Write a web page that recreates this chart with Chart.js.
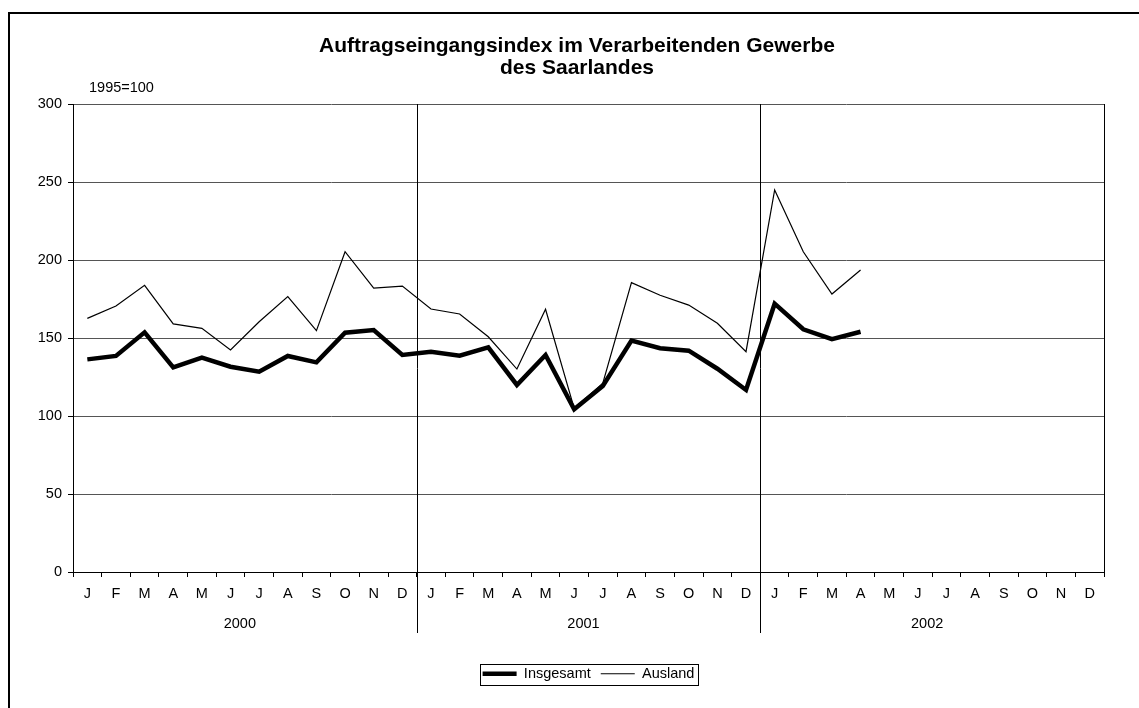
<!DOCTYPE html>
<html>
<head>
<meta charset="utf-8">
<script src="https://cdn.jsdelivr.net/npm/chart.js@4/dist/chart.umd.min.js"></script>
<style>
    body { margin: 0; background: #fff; overflow: hidden; }
    #frame { position: absolute; left: 8px; top: 12px; width: 1300px; height: 900px; border: 2px solid #000; }
    #chart { position: absolute; left: 0; top: 0; }
</style>
</head>
<body>
<div id="frame"></div>
<canvas id="chart" width="1139" height="708"></canvas>
<script>
// month letters, repeated for each year
const months = ['J', 'F', 'M', 'A', 'M', 'J', 'J', 'A', 'S', 'O', 'N', 'D'];
const years = ['2000', '2001', '2002'];

// Insgesamt (thick line)
const insgesamt2000 = [136.3, 138.5, 153.6, 131.2, 137.4, 131.6, 128.4, 138.5, 134.4, 153.4, 155.1, 139.1];
const insgesamt2001 = [141.2, 138.7, 144.0, 119.9, 139.1, 104.3, 119.2, 148.3, 143.4, 141.9, 130.3, 116.7];
const insgesamt2002 = [172.0, 155.6, 149.2, 154.0, null, null, null, null, null, null, null, null];

// Ausland (thin line)
const ausland2000 = [162.6, 170.5, 183.8, 159.0, 156.2, 142.3, 160.4, 176.5, 154.7, 205.3, 182.0, 183.3];
const ausland2001 = [168.6, 165.4, 150.8, 130.1, 168.4, 104.9, 121.0, 185.5, 177.4, 171.1, 159.4, 141.2];
const ausland2002 = [244.9, 205.3, 178.2, 193.6, null, null, null, null, null, null, null, null];

const labels = years.flatMap(() => months);

Chart.defaults.font.family = "'Liberation Sans', Arial, sans-serif";
Chart.defaults.font.size = 14.5;
Chart.defaults.color = '#000';

// year names under the months, separators between years, base note, legend frame
const extras = {
    id: 'extras',
    afterDraw(chart) {
        const ctx = chart.ctx;
        const x = chart.scales.x;
        const area = chart.chartArea;
        const slot = x.getPixelForValue(1) - x.getPixelForValue(0);

        ctx.save();
        ctx.strokeStyle = '#000';
        ctx.lineWidth = 1;

        ctx.font = "14.5px 'Liberation Sans', Arial, sans-serif";
        ctx.fillStyle = '#000';
        ctx.textAlign = 'center';
        ctx.textBaseline = 'middle';
        years.forEach((y, i) => {
            const first = x.getPixelForValue(i * 12) - slot / 2;
            const last = x.getPixelForValue(i * 12 + 11) + slot / 2;
            ctx.fillText(y, (first + last) / 2 - 5, 624);
            if (i > 0) {
                const sx = Math.round(first) + 0.5;
                ctx.beginPath();
                ctx.moveTo(sx, area.top);
                ctx.lineTo(sx, 633);
                ctx.stroke();
            }
        });

        ctx.textAlign = 'left';
        ctx.fillText('1995=100', 89, 87.5);

        // frame around the legend
        const boxes = chart.legend.legendHitBoxes;
        if (boxes && boxes.length) {
            const last = boxes[boxes.length - 1];
            const l = boxes[0].left - 3;
            const r = last.left + last.width + 3;
            const t = boxes[0].top - 3;
            const b = boxes[0].top + boxes[0].height + 3;
            ctx.strokeRect(Math.round(l) + 0.5, Math.round(t) + 0.5, Math.round(r - l), Math.round(b - t));
        }
        ctx.restore();
    }
};

new Chart(document.getElementById('chart'), {
    type: 'line',
    data: {
        labels: labels,
        datasets: [{
            label: 'Insgesamt',
            data: [...insgesamt2000, ...insgesamt2001, ...insgesamt2002],
            borderColor: '#000',
            backgroundColor: '#000',
            borderWidth: 4.5,
            pointRadius: 0,
            tension: 0
        }, {
            label: 'Ausland',
            data: [...ausland2000, ...ausland2001, ...ausland2002],
            borderColor: '#000',
            backgroundColor: '#000',
            borderWidth: 1.2,
            pointRadius: 0,
            tension: 0
        }]
    },
    options: {
        responsive: false,
        animation: false,
        layout: { padding: { left: 36, right: 21, top: 0, bottom: 17 } },
        plugins: {
            title: {
                display: true,
                text: ['Auftragseingangsindex im Verarbeitenden Gewerbe', 'des Saarlandes'],
                font: { size: 21, weight: 'bold', lineHeight: 22 / 21 },
                color: '#000',
                padding: { top: 35.5, bottom: 24.5 }
            },
            legend: {
                position: 'bottom',
                fullSize: false,
                labels: {
                    usePointStyle: true,
                    pointStyle: 'line',
                    pointStyleWidth: 34,
                    padding: 10,
                    color: '#000'
                }
            },
            tooltip: { enabled: false }
        },
        scales: {
            x: {
                offset: true,
                afterFit(scale) { scale.height = 84.5; },
                grid: { drawOnChartArea: false, offset: true, color: '#000', tickLength: 5 },
                border: { color: '#000' },
                ticks: { autoSkip: false, maxRotation: 0, padding: 8, color: '#000' }
            },
            y: {
                min: 0,
                max: 300,
                afterFit(scale) { scale.width = 37; },
                grid: { color: '#555', tickColor: '#000', tickLength: 5 },
                border: { color: '#000' },
                ticks: { stepSize: 50, padding: 6, color: '#000' }
            },
            // empty right axis: its border is the right edge of the plot
            y2: {
                position: 'right',
                min: 0,
                max: 300,
                afterFit(scale) { scale.width = 14; },
                grid: { display: false },
                border: { color: '#000' },
                ticks: { display: false }
            }
        }
    },
    plugins: [extras]
});
</script>
</body>
</html>
